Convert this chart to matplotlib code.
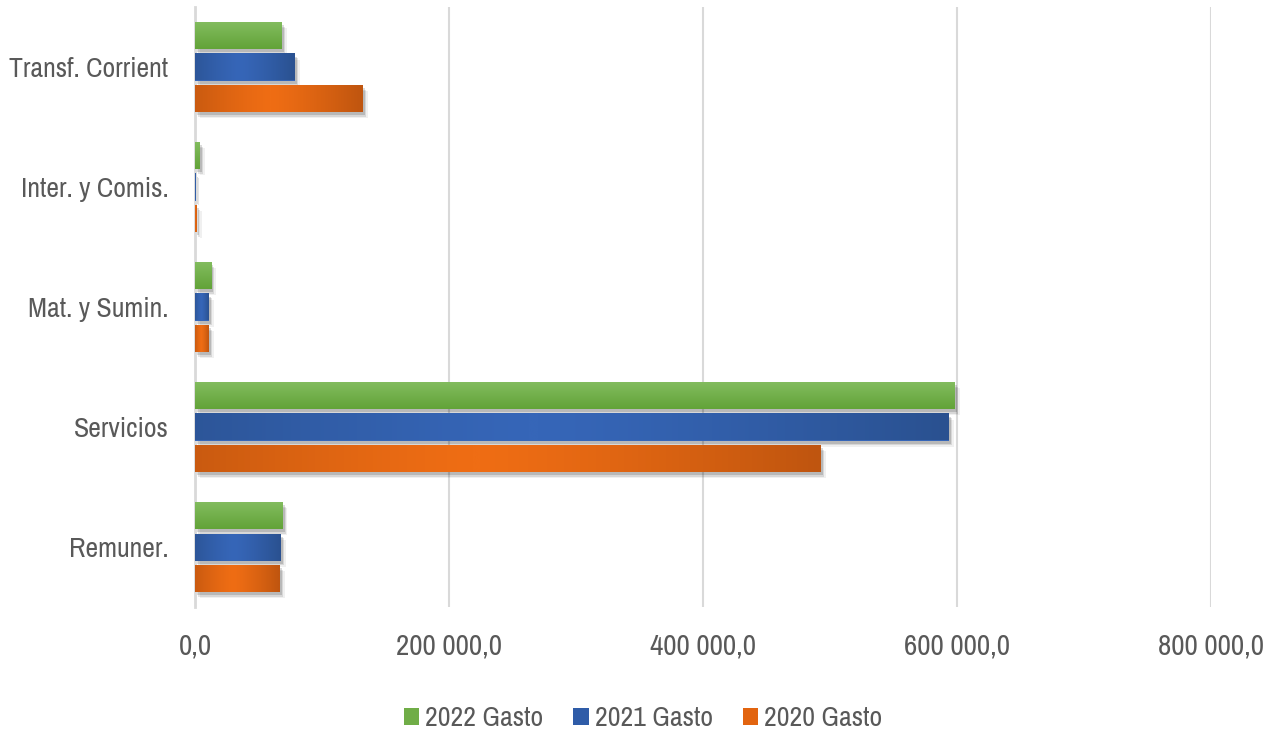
import numpy as np
import matplotlib
matplotlib.use("Agg")
import matplotlib.pyplot as plt
import matplotlib.patheffects as pe
from matplotlib.patches import Patch
from matplotlib.colors import LinearSegmentedColormap
from matplotlib.ticker import FuncFormatter

# Gasto por partida (miles), ordenado de abajo hacia arriba
categories = ["Remuner.", "Servicios", "Mat. y Sumin.", "Inter. y Comis.", "Transf. Corrient"]
gasto_2022 = [69000, 598400, 12600, 3900, 68300]
gasto_2021 = [67700, 593700, 11000, 500, 78700]
gasto_2020 = [66900, 492900, 11000, 1300, 132100]
series_labels = ["2022 Gasto", "2021 Gasto", "2020 Gasto"]

FONT = ["Archivo Narrow", "Roboto Condensed", "Liberation Sans", "DejaVu Sans"]
TEXT = "#595959"

# (dark edge, light centre, direction)
styles = [
    ("#62a338", "#82bc5e", "v"),
    ("#2a5190", "#3666b8", "h"),
    ("#bf550f", "#ef6d14", "h"),
]
legend_colors = ["#70ad47", "#2f5ca8", "#e2640f"]

fig = plt.figure(figsize=(12.81, 7.37), dpi=100)
ax = fig.add_axes([195 / 1281, 1 - 607 / 737, (1211 - 195) / 1281, 600 / 737])

y = np.arange(len(categories))
h = 0.225
step = 0.2625
offsets = [step, 0.0, -step]
all_series = [gasto_2022, gasto_2021, gasto_2020]

shadow = [
    pe.SimplePatchShadow(offset=(3.5, -4.5), shadow_rgbFace="#000000", alpha=0.06),
    pe.SimplePatchShadow(offset=(2.5, -3.5), shadow_rgbFace="#000000", alpha=0.10),
    pe.SimplePatchShadow(offset=(1.5, -2.5), shadow_rgbFace="#000000", alpha=0.14),
    pe.Normal(),
]

for vals, off, (dark, light, direction) in zip(all_series, offsets, styles):
    bars = ax.barh(y + off, vals, height=h, color=light, zorder=3, linewidth=0)
    cm = LinearSegmentedColormap.from_list("g", [dark, light])
    for b in bars:
        b.set_path_effects(shadow)
        x0, y0 = b.get_x(), b.get_y()
        w, hh = b.get_width(), b.get_height()
        if direction == "h":
            t = np.linspace(0, 1, 256)
            grad = 1 - np.clip(np.abs(t - 0.45) / 0.55, 0, 1) ** 1.3
            img = np.tile(grad, (8, 1))
        else:
            t = np.linspace(0, 1, 64)
            img = np.tile(t[:, None], (1, 8))
        ax.imshow(img, cmap=cm, vmin=0, vmax=1, extent=(x0, x0 + w, y0, y0 + hh),
                  origin="lower", aspect="auto", interpolation="bilinear", zorder=4)

ax.set_xlim(0, 800000)
ax.set_ylim(-0.5, len(categories) - 0.5)
ax.set_xticks([0, 200000, 400000, 600000, 800000])
ax.xaxis.set_major_formatter(FuncFormatter(
    lambda v, p: f"{v:,.1f}".replace(",", " ").replace(".", ",")))
ax.set_yticks(y)
ax.set_yticklabels(categories)

ax.grid(axis="x", color="#d9d9d9", linewidth=1.5, zorder=0)
ax.set_axisbelow(True)
for s in ["top", "right", "bottom"]:
    ax.spines[s].set_visible(False)
ax.spines["left"].set_color("#d9d9d9")
ax.spines["left"].set_linewidth(2)
ax.spines["left"].set_zorder(2)
ax.tick_params(axis="both", length=0, labelcolor=TEXT)
ax.tick_params(axis="x", pad=18, labelsize=21)
ax.tick_params(axis="y", pad=19, labelsize=20)
for lab in ax.get_xticklabels() + ax.get_yticklabels():
    lab.set_family(FONT)

handles = [Patch(facecolor=c, edgecolor="none") for c in legend_colors]
fig.legend(handles, series_labels, loc="center", bbox_to_anchor=(643 / 1281, 1 - 719 / 737),
           ncol=3, frameon=False, prop={"family": FONT, "size": 20},
           labelcolor=TEXT, handlelength=0.55, handleheight=0.55, handletextpad=0.22,
           columnspacing=1.08)

fig.savefig("out.png", dpi=100, facecolor="white")
